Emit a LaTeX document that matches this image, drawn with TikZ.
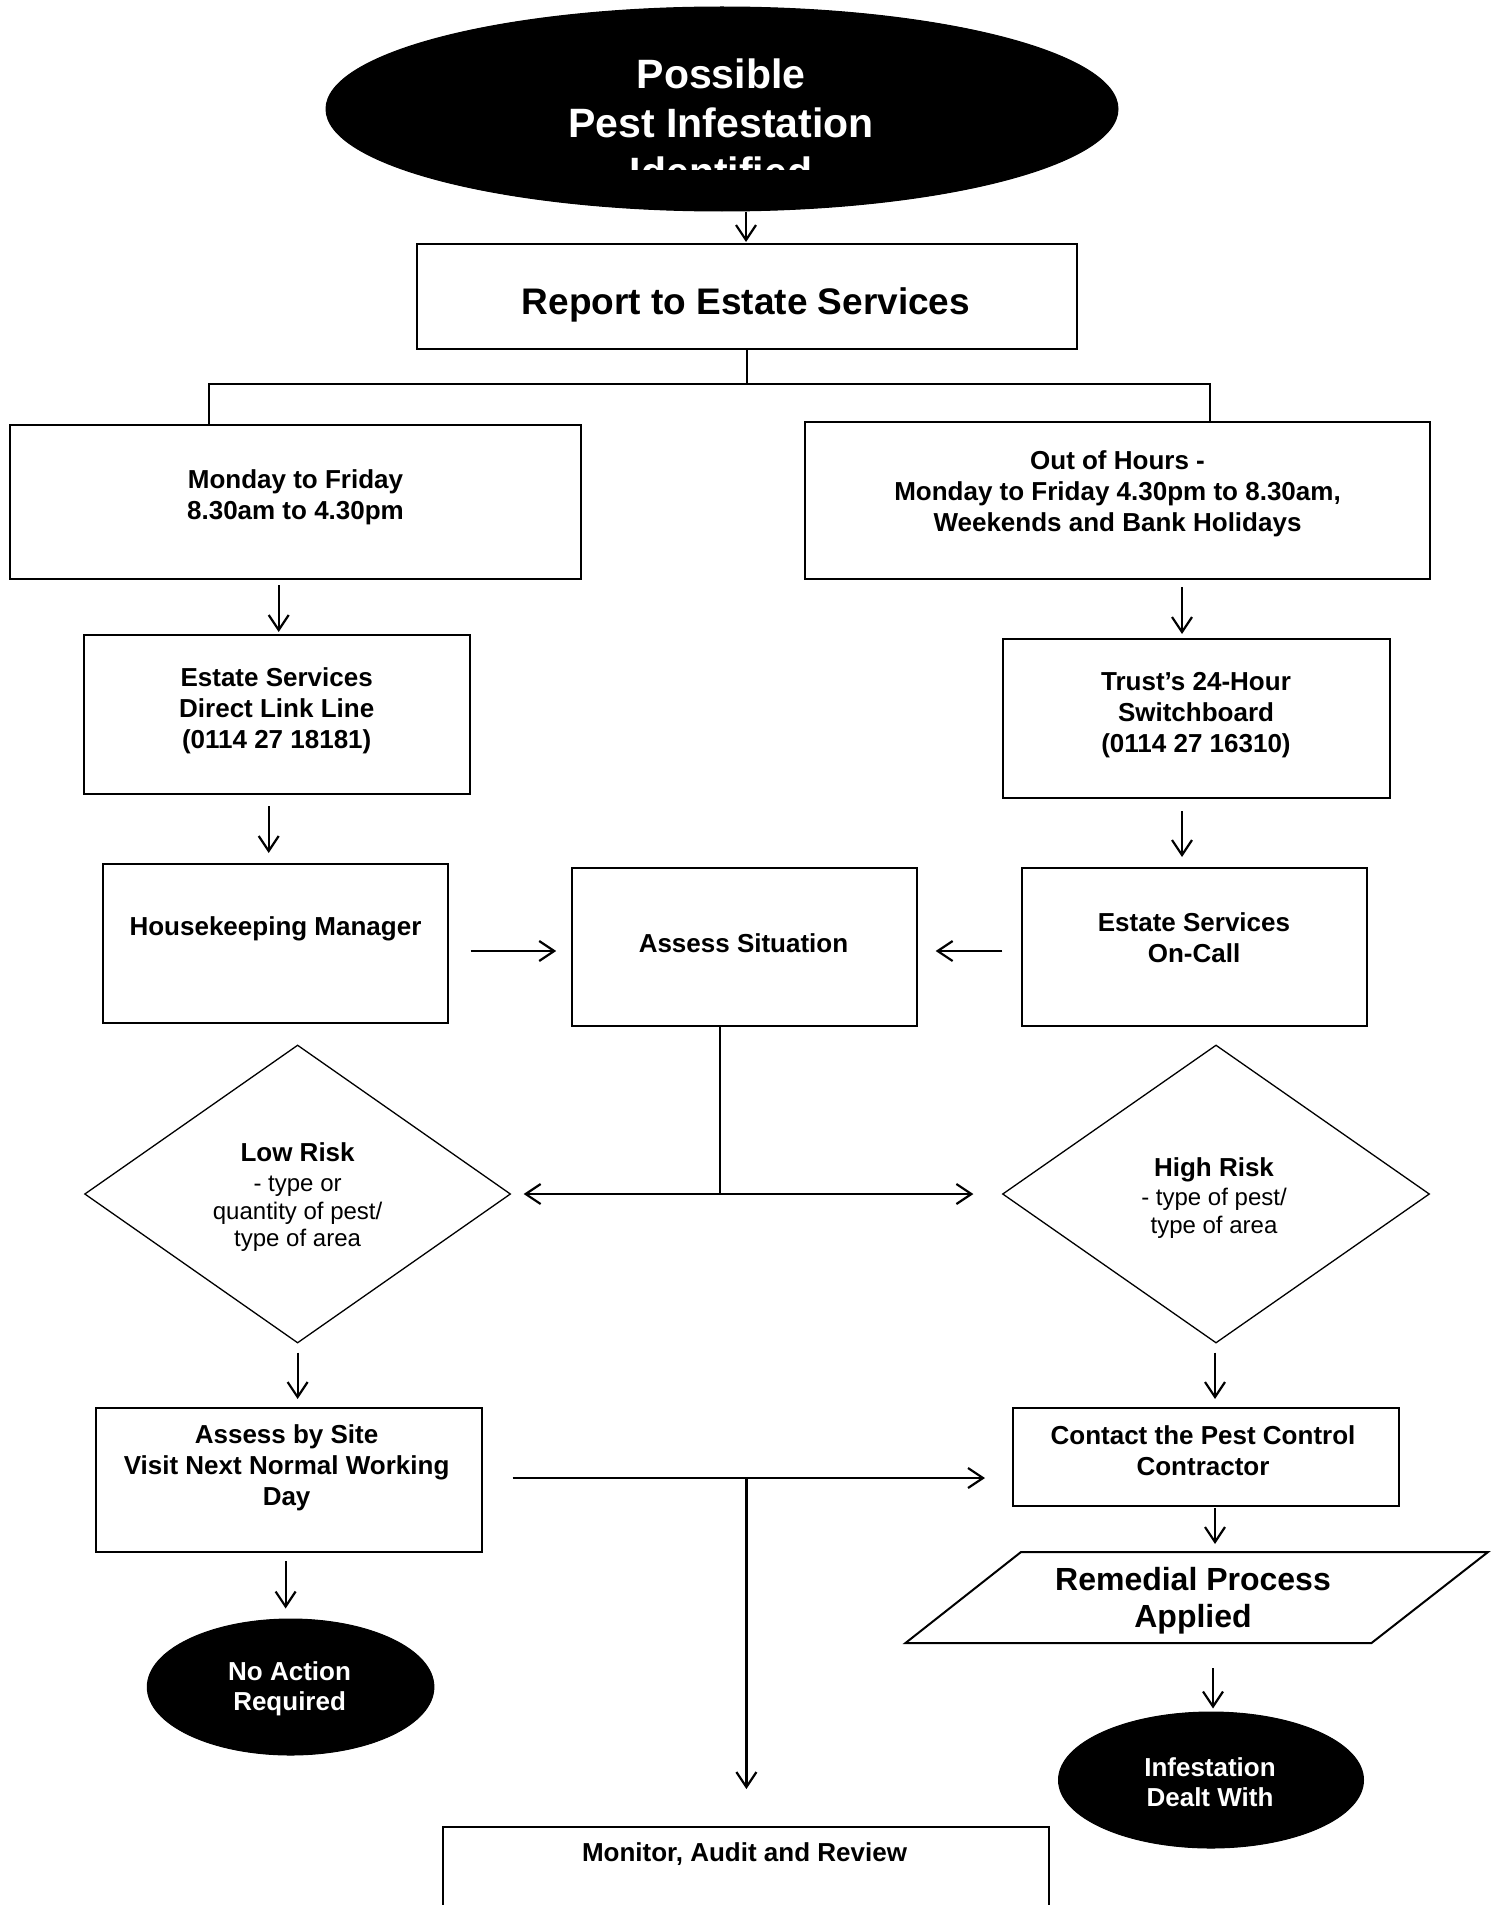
\documentclass[tikz,border=0pt]{standalone}
\usepackage{fontspec}
\setmainfont{Liberation Sans}
\usetikzlibrary{arrows.meta,shapes.geometric}
\begin{document}
\begin{tikzpicture}[x=1pt,y=-1pt,
  bx/.style={draw,line width=2pt,fill=white,inner sep=0pt,rectangle},
  blk/.style={fill=black,draw=black,line width=1pt,ellipse,inner sep=0pt},
  dia/.style={draw,line width=1.3pt,diamond,inner sep=0pt,fill=white},
  tb/.style={font=\fontsize{26}{31}\selectfont\bfseries,align=center,inner sep=0pt},
  tw/.style={font=\fontsize{26}{30}\selectfont\bfseries,align=center,inner sep=0pt,text=white},
  td/.style={font=\fontsize{24}{27.5}\selectfont,align=center,inner sep=0pt},
  ln/.style={line width=2.2pt},
  arr/.style={line width=2.2pt,-{Straight Barb[length=15pt,width=20pt]}},
]
\useasboundingbox (0,0) rectangle (1494,1905);
\fill[white] (0,0) rectangle (1494,1905);

% ---------- shapes ----------
\node[blk,minimum width=792pt,minimum height=204pt] (top) at (722,109) {};
\begin{scope}
\clip (300,0) rectangle (1150,170);
\node[font=\fontsize{41}{49}\selectfont\bfseries,align=center,inner sep=0pt,text=white] (topT) at (721,123) {Possible\\Pest Infestation\\Identified};
\end{scope}

\node[bx,minimum width=660pt,minimum height=105pt] (report) at (747,296.5) {};
\node[font=\fontsize{37}{44}\selectfont\bfseries,inner sep=0pt] (reportT) at (746,305) {Report to Estate Services};

\node[bx,minimum width=571pt,minimum height=154pt] (mon) at (295.5,502) {};
\node[tb] (monT) at (295.5,497) {Monday to Friday\\8.30am to 4.30pm};

\node[bx,minimum width=625pt,minimum height=157pt] (ooh) at (1117.5,500.5) {};
\node[tb] (oohT) at (1117.5,494) {Out of Hours -\\Monday to Friday 4.30pm to 8.30am,\\Weekends and Bank Holidays};

\node[bx,minimum width=386pt,minimum height=159pt] (dl) at (276.7,714.5) {};
\node[tb] (dlT) at (276.7,711) {Estate Services\\Direct Link Line\\(0114 27 18181)};

\node[bx,minimum width=387pt,minimum height=159pt] (trust) at (1196.5,718.5) {};
\node[tb] (trustT) at (1196,715) {Trust’s 24-Hour\\Switchboard\\(0114 27 16310)};

\node[bx,minimum width=345pt,minimum height=159pt] (hk) at (275,943.5) {};
\node[tb] (hkT) at (275.5,929) {Housekeeping Manager};

\node[bx,minimum width=344.5pt,minimum height=158pt] (as) at (744.4,947) {};
\node[tb] (asT) at (743.5,943) {Assess Situation};

\node[bx,minimum width=345pt,minimum height=158pt] (oc) at (1194.8,947) {};
\node[tb] (ocT) at (1194,937.5) {Estate Services\\On-Call};

\node[dia,minimum width=426pt,minimum height=298pt] (low) at (297.6,1194) {};
\node[td] (lowT) at (297.6,1197) {{\fontsize{26}{27.5}\selectfont\bfseries Low Risk}\\[3pt]- type or\\quantity of pest/\\type of area};

\node[dia,minimum width=427pt,minimum height=298pt] (high) at (1216,1194) {};
\node[td] (highT) at (1214,1198) {{\fontsize{26}{27.5}\selectfont\bfseries High Risk}\\[2pt]- type of pest/\\type of area};

\node[bx,minimum width=386pt,minimum height=144pt] (site) at (288.6,1480) {};
\node[tb] (siteT) at (286.6,1468) {Assess by Site\\Visit Next Normal Working\\Day};

\node[bx,minimum width=386pt,minimum height=98pt] (contact) at (1206,1457) {};
\node[tb] (contactT) at (1203,1451) {Contact the Pest Control\\Contractor};

\draw[line width=2pt,fill=white] (905.5,1643) coordinate (remBL) -- (1021,1552) coordinate (remTL)
  -- (1488,1552) coordinate (remTR) -- (1371.5,1643) coordinate (remBR) -- cycle;
\coordinate (remTop) at (1215,1552);
\coordinate (remBot) at (1213,1643);
\node[font=\fontsize{32}{37}\selectfont\bfseries,align=center,inner sep=0pt] (remT) at (1193,1601) {Remedial Process\\Applied};

\node[blk,minimum width=286.6pt,minimum height=136pt] (na) at (290.6,1687) {};
\node[tw] (naT) at (289.6,1689) {No Action\\Required};

\node[blk,minimum width=305pt,minimum height=136pt] (inf) at (1211,1780) {};
\node[tw] (infT) at (1210,1782) {Infestation\\Dealt With};

\node[bx,minimum width=606pt,minimum height=100pt] (monitor) at (746,1877) {};
\node[tb] (monitorT) at (744.5,1854) {Monitor, Audit and Review};

% ---------- connectors ----------
\coordinate (xt) at (746,0);
\draw[arr,shorten >=1pt] (xt |- top.south) -- (xt |- report.north);

\coordinate (j1) at (747,384);
\coordinate (cL) at (209,0);
\coordinate (cR) at (1210,0);
\draw[ln] (report.south) -- (j1) -| (cL |- mon.north);
\draw[ln] (j1) -| (cR |- ooh.north);

\coordinate (xa) at (278.7,0);
\coordinate (xb) at (1182,0);
\coordinate (xc) at (268.7,0);
\draw[arr,shorten <=5pt,shorten >=2pt] (xa |- mon.south) -- (xa |- dl.north);
\draw[arr,shorten <=7pt,shorten >=4pt] (xb |- ooh.south) -- (xb |- trust.north);
\draw[arr,shorten <=11pt,shorten >=10pt] (xc |- dl.south) -- (xc |- hk.north);
\draw[arr,shorten <=12pt,shorten >=10pt] (xb |- trust.south) -- (xb |- oc.north);

\coordinate (ya) at (0,951);
\draw[arr,shorten <=22pt,shorten >=15pt] (hk.east |- ya) -- (as.west |- ya);
\draw[arr,shorten <=19pt,shorten >=18pt] (oc.west |- ya) -- (as.east |- ya);

\coordinate (split) at (720,1194);
\draw[ln] (split |- as.south) -- (split);
\draw[arr,shorten >=12.4pt] (split) -- (low.east);
\draw[arr,shorten >=28.5pt] (split) -- (high.west);

\coordinate (xd) at (297.6,0);
\coordinate (xe) at (1215,0);
\draw[arr,shorten <=9pt,shorten >=8pt] (xd |- low.south) -- (xd |- site.north);
\draw[arr,shorten <=9pt,shorten >=8pt] (xe |- high.south) -- (xe |- contact.north);

\coordinate (yb) at (0,1478);
\coordinate (j3) at (746.4,1478);
\draw[arr,shorten <=30pt,shorten >=27pt] (site.east |- yb) -- (contact.west |- yb);
\draw[arr,shorten >=37pt] (j3) -- (j3 |- monitor.north);

\coordinate (xf) at (1215,0);
\draw[arr,shorten <=1pt,shorten >=8pt] (xf |- contact.south) -- (remTop);
\draw[arr,shorten <=25pt,shorten >=3pt] (remBot) -- (remBot |- inf.north);

\coordinate (xg) at (285.6,0);
\draw[arr,shorten <=8pt,shorten >=10pt] (xg |- site.south) -- (xg |- na.north);
\end{tikzpicture}
\end{document}
